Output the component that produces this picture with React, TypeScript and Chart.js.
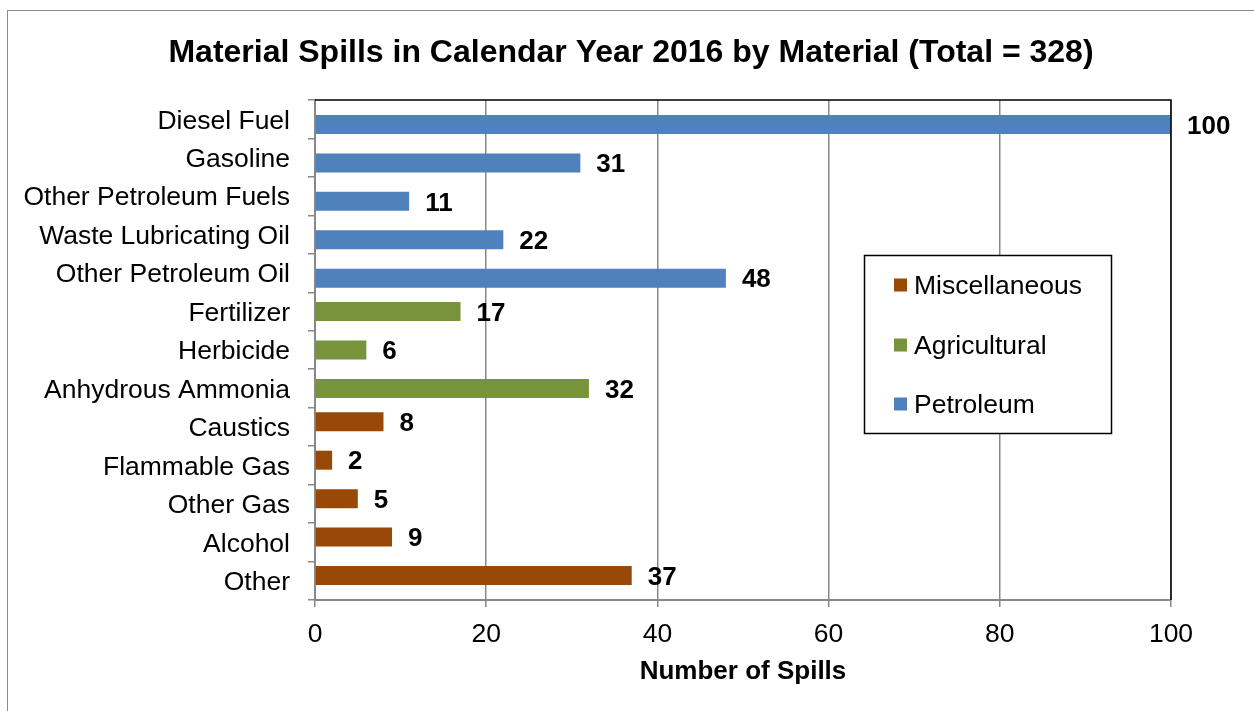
import React, { useEffect, useRef } from "react";
import { Chart, registerables } from "chart.js";

Chart.register(...registerables);

const categories = [
  "Diesel Fuel",
  "Gasoline",
  "Other Petroleum Fuels",
  "Waste Lubricating Oil",
  "Other Petroleum Oil",
  "Fertilizer",
  "Herbicide",
  "Anhydrous Ammonia",
  "Caustics",
  "Flammable Gas",
  "Other Gas",
  "Alcohol",
  "Other",
];

const miscellaneous = [null, null, null, null, null, null, null, null, 8, 2, 5, 9, 37];
const agricultural = [null, null, null, null, null, 17, 6, 32, null, null, null, null, null];
const petroleum = [100, 31, 11, 22, 48, null, null, null, null, null, null, null, null];

const seriesNames = ["Miscellaneous", "Agricultural", "Petroleum"];
const seriesColors = ["#984807", "#77933C", "#4F81BD"];

const xTicksMin = 0;
const xTicksMax = 100;
const xTicksStep = 20;

const titleText = "Material Spills in Calendar Year 2016 by Material (Total = 328)";
const xTitle = "Number of Spills";

const FONT = "'Liberation Sans', Arial, sans-serif";

export default function App() {
  const ref = useRef<HTMLCanvasElement | null>(null);

  useEffect(() => {
    if (!ref.current) return;

    const decor = {
      id: "decor",
      beforeDraw(chart: any) {
        const ctx = chart.ctx;
        ctx.save();
        ctx.fillStyle = "#ffffff";
        ctx.fillRect(0, 0, chart.width, chart.height);
        ctx.strokeStyle = "#8c8c8c";
        ctx.lineWidth = 1;
        ctx.strokeRect(7.5, 10.5, 1400, 1000);
        ctx.fillStyle = "#000";
        ctx.font = `bold 32px ${FONT}`;
        ctx.textAlign = "center";
        ctx.textBaseline = "middle";
        ctx.fillText(titleText, 631, 53);
        ctx.restore();
      },
      afterDraw(chart: any) {
        const ctx = chart.ctx;
        const a = chart.chartArea;
        ctx.save();
        // top and right black borders
        ctx.strokeStyle = "#000";
        ctx.lineWidth = 1.5;
        ctx.beginPath();
        ctx.moveTo(a.left, a.top);
        ctx.lineTo(a.right, a.top);
        ctx.lineTo(a.right, a.bottom);
        ctx.stroke();
        // data labels
        ctx.font = `bold 26px ${FONT}`;
        ctx.fillStyle = "#000";
        ctx.textAlign = "left";
        ctx.textBaseline = "middle";
        chart.data.datasets.forEach((ds: any, di: number) => {
          const meta = chart.getDatasetMeta(di);
          meta.data.forEach((el: any, i: number) => {
            const v = ds.data[i];
            if (v === null || v === undefined) return;
            ctx.fillText(String(v), el.x + 16, el.y + 2);
          });
        });
        // legend
        const lx = 864.5, ly = 255.5, lw = 247, lh = 178;
        ctx.fillStyle = "#fff";
        ctx.fillRect(lx, ly, lw, lh);
        ctx.strokeStyle = "#000";
        ctx.lineWidth = 1.5;
        ctx.strokeRect(lx, ly, lw, lh);
        const itemY = [285, 345, 404];
        ctx.font = `26.5px ${FONT}`;
        seriesNames.forEach((n, i) => {
          ctx.fillStyle = seriesColors[i];
          ctx.fillRect(894, itemY[i] - 6.5, 13, 13);
          ctx.fillStyle = "#000";
          ctx.fillText(n, 914, itemY[i] + 2);
        });
        ctx.restore();
      },
    };

    const chart = new Chart(ref.current, {
      type: "bar",
      data: {
        labels: categories,
        datasets: [
          { label: seriesNames[0], data: miscellaneous, backgroundColor: seriesColors[0] },
          { label: seriesNames[1], data: agricultural, backgroundColor: seriesColors[1] },
          { label: seriesNames[2], data: petroleum, backgroundColor: seriesColors[2] },
        ],
      },
      options: {
        indexAxis: "y",
        animation: false,
        responsive: false,
        maintainAspectRatio: false,
        categoryPercentage: 0.4056,
        barPercentage: 3.65,
        layout: { padding: { left: 0, right: 83, top: 100, bottom: 0 } },
        plugins: {
          legend: { display: false },
          title: { display: false },
          tooltip: { enabled: false },
        },
        scales: {
          x: {
            type: "linear",
            min: xTicksMin,
            max: xTicksMax,
            ticks: {
              stepSize: xTicksStep,
              color: "#000",
              font: { family: FONT, size: 26.5 },
              padding: 12,
            },
            grid: {
              color: "#888888",
              lineWidth: 1.5,
              tickLength: 7,
            },
            border: { color: "#888888", width: 2 },
            title: {
              display: true,
              text: xTitle,
              color: "#000",
              font: { family: FONT, size: 26, weight: "bold" },
              padding: { top: 0, bottom: 24 },
            },
            afterFit(scale: any) {
              scale.height = 111;
            },
          },
          y: {
            type: "category",
            ticks: {
              color: "#000",
              font: { family: FONT, size: 26.5 },
              padding: 18,
              labelOffset: 2,
              autoSkip: false,
            },
            grid: {
              display: true,
              drawOnChartArea: false,
              drawTicks: true,
              tickLength: 7,
              color: "#888888",
              lineWidth: 1.5,
              offset: true,
            },
            border: { color: "#888888", width: 2 },
            afterFit(scale: any) {
              scale.width = 315;
            },
          },
        },
      },
      plugins: [decor],
    } as any);

    return () => chart.destroy();
  }, []);

  return (
    <div style={{ position: "absolute", left: 0, top: 0, width: 1254, height: 711 }}>
      <canvas ref={ref} width={1254} height={711} style={{ display: "block" }} />
    </div>
  );
}
